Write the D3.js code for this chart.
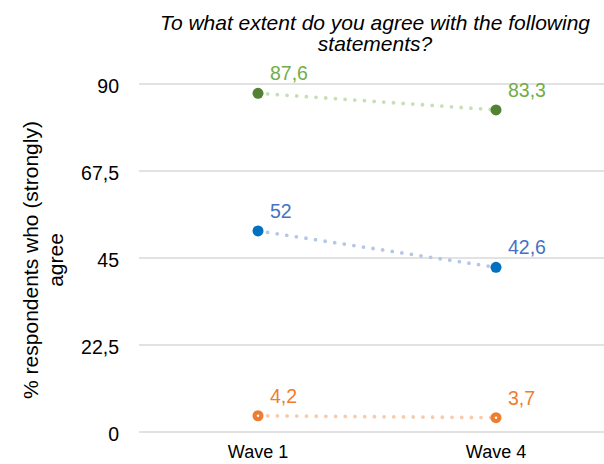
<!DOCTYPE html>
<html><head><meta charset="utf-8">
<script src="https://cdn.jsdelivr.net/npm/d3@7"></script>
<style>body{margin:0;background:#fff}svg{display:block;font-family:"Liberation Sans",Arial,sans-serif}</style>
</head><body><svg id="c" width="604" height="464"></svg>
<script>
const categories = ["Wave 1", "Wave 4"];
const seriesGreen = [87.6, 83.3];
const seriesBlue = [52, 42.6];
const seriesOrange = [4.2, 3.7];
const yTicks = [0, 22.5, 45, 67.5, 90];
const yTickLabels = ["0", "22,5", "45", "67,5", "90"];
const valueLabelsGreen = ["87,6", "83,3"];
const valueLabelsBlue = ["52", "42,6"];
const valueLabelsOrange = ["4,2", "3,7"];

const series = [
  {vals: seriesGreen, labels: valueLabelsGreen, dot: "#548235", text: "#70AD47", line: "#C5E0B4", hollow: false},
  {vals: seriesBlue, labels: valueLabelsBlue, dot: "#0070C0", text: "#4472C4", line: "#B4C7E7", hollow: false},
  {vals: seriesOrange, labels: valueLabelsOrange, dot: "#ED7D31", text: "#ED7D31", line: "#F8CBAD", hollow: true}
];

const svg = d3.select("#c");
const x = d3.scaleBand().domain(categories).range([139, 615]).paddingInner(0).paddingOuter(0);
const y = d3.scaleLinear().domain([0, 90]).range([432, 84]);
const cx = c => x(c) + x.bandwidth() / 2;

// gridlines
svg.append("g").selectAll("line").data(yTicks).join("line")
  .attr("x1", 139).attr("x2", 604)
  .attr("y1", d => y(d)).attr("y2", d => y(d))
  .attr("stroke", "#d9d9d9").attr("stroke-width", 1.5);

// y axis
const yAxis = d3.axisLeft(y).tickValues(yTicks).tickFormat((d, i) => yTickLabels[i]).tickSize(0).tickPadding(0);
const ga = svg.append("g").attr("transform", "translate(119,2)").call(yAxis);
ga.select(".domain").remove();
ga.selectAll("text").attr("font-size", 19.5).attr("fill", "#000").attr("font-family", "Liberation Sans, Arial, sans-serif").attr("dy", "0.35em");

// x axis
const xAxis = d3.axisBottom(x).tickSize(0).tickPadding(0);
const gx = svg.append("g").attr("transform", "translate(0,458)").call(xAxis);
gx.select(".domain").remove();
gx.selectAll("text").attr("font-size", 18).attr("fill", "#000").attr("font-family", "Liberation Sans, Arial, sans-serif").attr("dy", "0");

// title
const t = svg.append("text").attr("text-anchor", "middle").attr("font-style", "italic").attr("font-size", 21).attr("fill", "#000");
t.append("tspan").attr("x", 375).attr("y", 30).text("To what extent do you agree with the following");
t.append("tspan").attr("x", 375).attr("y", 51).text("statements?");

// y title
const yt = svg.append("text").attr("text-anchor", "middle").attr("font-size", 21).attr("fill", "#000")
  .attr("transform", "translate(0,260) rotate(-90)");
yt.append("tspan").attr("x", 0).attr("y", 38).text("% respondents who (strongly)");
yt.append("tspan").attr("x", 0).attr("y", 63).text("agree");

// series
const line = d3.line().x((d, i) => cx(categories[i])).y(d => y(d));
series.forEach(s => {
  svg.append("path").datum(s.vals).attr("d", line)
    .attr("fill", "none").attr("stroke", s.line).attr("stroke-width", 3.8)
    .attr("stroke-linecap", "round").attr("stroke-dasharray", "0 9.7");
  const g = svg.append("g");
  g.selectAll("circle.p").data(s.vals).join("circle").attr("class", "p")
    .attr("cx", (d, i) => cx(categories[i])).attr("cy", d => y(d)).attr("r", 5.5).attr("fill", s.dot);
  if (s.hollow) {
    g.selectAll("circle.h").data(s.vals).join("circle").attr("class", "h")
      .attr("cx", (d, i) => cx(categories[i])).attr("cy", d => y(d)).attr("r", 1.2).attr("fill", "#fff");
  }
  g.selectAll("text").data(s.vals).join("text")
    .attr("x", (d, i) => cx(categories[i]) + 12).attr("y", d => y(d) - 13)
    .attr("font-size", 19.5).attr("fill", s.text).text((d, i) => s.labels[i]);
});
</script></body></html>
